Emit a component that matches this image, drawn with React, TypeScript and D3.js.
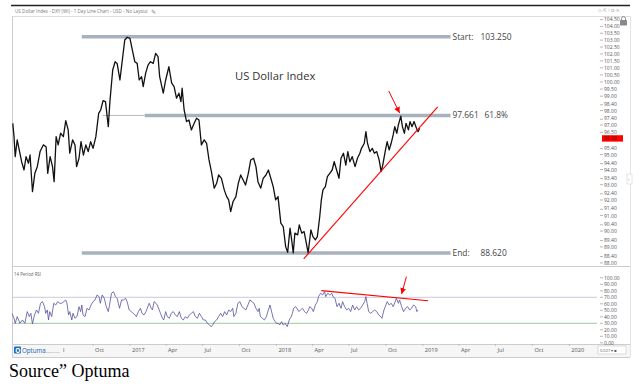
import React from "react";
import * as d3 from "d3";

// US Dollar Index (DXY), daily line
const dxy: [string, number][] = [
  ["2016-03-15", 97.12], ["2016-03-18", 96.21], ["2016-03-21", 94.86], ["2016-03-26", 95.99],
  ["2016-03-31", 95.31], ["2016-04-06", 94.52], ["2016-04-12", 93.97], ["2016-04-17", 94.86],
  ["2016-04-23", 94.42], ["2016-04-27", 94.97], ["2016-05-03", 92.55], ["2016-05-09", 93.75],
  ["2016-05-15", 94.19], ["2016-05-22", 95.2], ["2016-05-30", 95.65], ["2016-06-06", 95.53],
  ["2016-06-10", 93.75], ["2016-06-16", 94.86], ["2016-06-22", 94.19], ["2016-06-26", 93.2],
  ["2016-07-01", 96.21], ["2016-07-06", 95.65], ["2016-07-12", 96.44], ["2016-07-19", 96.21],
  ["2016-07-25", 97.3], ["2016-07-31", 96.67], ["2016-08-04", 95.09], ["2016-08-11", 95.99],
  ["2016-08-17", 95.65], ["2016-08-21", 94.19], ["2016-08-27", 94.75], ["2016-09-01", 95.87],
  ["2016-09-07", 94.97], ["2016-09-13", 95.65], ["2016-09-19", 95.2], ["2016-09-25", 95.87],
  ["2016-10-01", 95.42], ["2016-10-08", 96.21], ["2016-10-15", 97.81], ["2016-10-20", 98.04],
  ["2016-10-26", 98.69], ["2016-11-01", 98.62], ["2016-11-08", 96.89], ["2016-11-12", 98.62],
  ["2016-11-19", 100.85], ["2016-11-25", 101.44], ["2016-11-30", 101.32], ["2016-12-07", 100.14],
  ["2016-12-12", 101.32], ["2016-12-19", 103.01], ["2016-12-25", 103.21], ["2017-01-01", 103.13],
  ["2017-01-07", 102.28], ["2017-01-13", 101.44], ["2017-01-19", 101.32], ["2017-01-24", 100.14],
  ["2017-01-30", 100.37], ["2017-02-03", 99.67], ["2017-02-09", 100.61], ["2017-02-15", 101.2],
  ["2017-02-21", 101.44], ["2017-02-28", 101.32], ["2017-03-06", 102.04], ["2017-03-12", 101.8],
  ["2017-03-16", 100.37], ["2017-03-25", 99.21], ["2017-03-31", 100.14], ["2017-04-08", 101.08],
  ["2017-04-15", 99.91], ["2017-04-21", 99.67], ["2017-04-27", 98.86], ["2017-05-03", 99.21],
  ["2017-05-08", 98.62], ["2017-05-11", 99.56], ["2017-05-16", 98.04], ["2017-05-22", 97.24],
  ["2017-05-28", 97.35], ["2017-06-03", 96.67], ["2017-06-10", 97.12], ["2017-06-16", 97.47],
  ["2017-06-22", 97.35], ["2017-06-28", 95.65], ["2017-07-05", 95.99], ["2017-07-11", 95.76],
  ["2017-07-17", 94.64], ["2017-07-23", 93.86], ["2017-07-30", 92.77], ["2017-08-05", 93.09],
  ["2017-08-10", 93.64], ["2017-08-17", 93.42], ["2017-08-24", 92.66], ["2017-08-30", 92.22],
  ["2017-09-04", 92.01], ["2017-09-09", 91.25], ["2017-09-15", 91.9], ["2017-09-22", 92.22],
  ["2017-09-28", 93.09], ["2017-10-04", 93.64], ["2017-10-10", 93.31], ["2017-10-16", 92.98],
  ["2017-10-23", 93.75], ["2017-10-29", 94.64], ["2017-11-05", 94.75], ["2017-11-11", 94.19],
  ["2017-11-16", 93.2], ["2017-11-23", 92.77], ["2017-11-29", 93.42], ["2017-12-06", 93.64],
  ["2017-12-12", 93.97], ["2017-12-18", 93.42], ["2017-12-24", 92.87], ["2017-12-30", 92.01],
  ["2018-01-05", 92.22], ["2018-01-12", 90.51], ["2018-01-18", 90.29], ["2018-01-24", 89.02],
  ["2018-01-29", 88.66], ["2018-02-04", 90.19], ["2018-02-08", 89.44], ["2018-02-12", 88.62],
  ["2018-02-16", 89.87], ["2018-02-23", 89.76], ["2018-02-27", 90.4], ["2018-03-05", 89.87],
  ["2018-03-11", 89.97], ["2018-03-15", 89.44], ["2018-03-21", 88.62], ["2018-03-28", 90.08],
  ["2018-04-02", 89.65], ["2018-04-08", 89.44], ["2018-04-13", 89.65], ["2018-04-19", 90.93],
  ["2018-04-23", 92.01], ["2018-04-27", 92.66], ["2018-05-03", 92.87], ["2018-05-08", 93.53],
  ["2018-05-14", 93.75], ["2018-05-20", 93.97], ["2018-05-25", 94.52], ["2018-05-31", 93.97],
  ["2018-06-06", 93.42], ["2018-06-11", 94.75], ["2018-06-17", 95.09], ["2018-06-23", 94.3],
  ["2018-06-28", 95.2], ["2018-07-03", 94.52], ["2018-07-09", 94.86], ["2018-07-16", 94.19],
  ["2018-07-22", 94.75], ["2018-07-28", 95.09], ["2018-08-01", 95.42], ["2018-08-08", 95.76],
  ["2018-08-12", 96.55], ["2018-08-16", 95.76], ["2018-08-22", 95.2], ["2018-08-28", 95.42],
  ["2018-09-02", 95.09], ["2018-09-08", 95.2], ["2018-09-14", 94.64], ["2018-09-19", 93.86],
  ["2018-09-23", 94.3], ["2018-09-29", 95.2], ["2018-10-04", 95.87], ["2018-10-09", 95.31],
  ["2018-10-14", 95.76], ["2018-10-19", 96.33], ["2018-10-23", 96.89], ["2018-10-28", 96.44],
  ["2018-11-01", 97.01], ["2018-11-07", 97.62], ["2018-11-11", 96.89], ["2018-11-16", 96.44],
  ["2018-11-20", 97.12], ["2018-11-26", 96.67], ["2018-11-30", 97.24], ["2018-12-05", 96.89],
  ["2018-12-10", 97.24], ["2018-12-16", 96.78], ["2018-12-20", 96.55], ["2018-12-24", 96.78],
];

// 14 period RSI
const rsi: [string, number][] = [
  ["2016-03-13", 45.4], ["2016-03-18", 37.7], ["2016-03-21", 30.0], ["2016-03-26", 40.3],
  ["2016-04-02", 30.0], ["2016-04-08", 35.1], ["2016-04-14", 30.0], ["2016-04-20", 48.0],
  ["2016-04-25", 40.3], ["2016-04-29", 45.4], ["2016-05-03", 29.0], ["2016-05-08", 42.8],
  ["2016-05-13", 50.5], ["2016-05-18", 45.4], ["2016-05-23", 60.8], ["2016-05-28", 63.3],
  ["2016-06-02", 55.6], ["2016-06-05", 45.4], ["2016-06-09", 50.5], ["2016-06-12", 35.1],
  ["2016-06-15", 48.0], ["2016-06-20", 40.3], ["2016-06-25", 60.8], ["2016-06-30", 58.2],
  ["2016-07-05", 63.3], ["2016-07-10", 60.8], ["2016-07-15", 60.8], ["2016-07-20", 63.3],
  ["2016-07-25", 65.9], ["2016-07-28", 60.8], ["2016-08-01", 42.8], ["2016-08-04", 48.0],
  ["2016-08-09", 35.1], ["2016-08-12", 45.4], ["2016-08-17", 37.7], ["2016-08-22", 40.3],
  ["2016-08-27", 55.6], ["2016-08-31", 48.0], ["2016-09-03", 58.2], ["2016-09-06", 42.8],
  ["2016-09-11", 40.3], ["2016-09-16", 53.1], ["2016-09-21", 50.5], ["2016-09-26", 58.2],
  ["2016-10-01", 63.3], ["2016-10-06", 65.9], ["2016-10-11", 73.6], ["2016-10-16", 71.0],
  ["2016-10-19", 60.8], ["2016-10-24", 73.6], ["2016-10-29", 68.5], ["2016-11-03", 55.6],
  ["2016-11-08", 48.0], ["2016-11-11", 58.2], ["2016-11-16", 76.2], ["2016-11-21", 78.7],
  ["2016-11-26", 71.0], ["2016-11-30", 68.5], ["2016-12-03", 60.8], ["2016-12-06", 53.1],
  ["2016-12-11", 65.9], ["2016-12-16", 65.9], ["2016-12-21", 68.5], ["2016-12-25", 63.3],
  ["2016-12-30", 50.5], ["2017-01-04", 48.0], ["2017-01-09", 45.4], ["2017-01-14", 42.8],
  ["2017-01-17", 40.3], ["2017-01-22", 48.0], ["2017-01-27", 53.1], ["2017-01-31", 45.4],
  ["2017-02-05", 42.8], ["2017-02-10", 48.0], ["2017-02-13", 53.1], ["2017-02-18", 60.8],
  ["2017-02-23", 53.1], ["2017-02-26", 50.5], ["2017-03-02", 63.3], ["2017-03-07", 60.8],
  ["2017-03-10", 58.2], ["2017-03-15", 50.5], ["2017-03-18", 45.4], ["2017-03-23", 37.7],
  ["2017-03-26", 35.1], ["2017-03-31", 48.0], ["2017-04-04", 40.3], ["2017-04-09", 37.7],
  ["2017-04-14", 45.4], ["2017-04-19", 48.0], ["2017-04-24", 42.8], ["2017-04-29", 40.3],
  ["2017-05-04", 48.0], ["2017-05-09", 37.7], ["2017-05-14", 35.1], ["2017-05-19", 40.3],
  ["2017-05-24", 37.7], ["2017-05-29", 42.8], ["2017-06-03", 45.4], ["2017-06-08", 48.0],
  ["2017-06-13", 40.3], ["2017-06-18", 37.7], ["2017-06-23", 45.4], ["2017-06-28", 40.3],
  ["2017-07-03", 35.1], ["2017-07-08", 35.1], ["2017-07-13", 30.0], ["2017-07-18", 27.4],
  ["2017-07-23", 24.9], ["2017-07-26", 27.4], ["2017-07-31", 32.6], ["2017-08-05", 35.1],
  ["2017-08-10", 40.3], ["2017-08-15", 45.4], ["2017-08-20", 40.3], ["2017-08-25", 48.0],
  ["2017-08-30", 42.8], ["2017-09-04", 50.5], ["2017-09-09", 48.0], ["2017-09-14", 53.1],
  ["2017-09-17", 40.3], ["2017-09-22", 45.4], ["2017-09-27", 60.8], ["2017-10-02", 63.3],
  ["2017-10-07", 55.6], ["2017-10-12", 53.1], ["2017-10-17", 50.5], ["2017-10-22", 58.2],
  ["2017-10-27", 65.9], ["2017-11-01", 63.3], ["2017-11-06", 60.8], ["2017-11-11", 53.1],
  ["2017-11-16", 48.0], ["2017-11-19", 53.1], ["2017-11-22", 40.3], ["2017-11-27", 37.7],
  ["2017-12-02", 35.1], ["2017-12-07", 40.3], ["2017-12-12", 50.5], ["2017-12-16", 58.2],
  ["2017-12-21", 45.4], ["2017-12-24", 37.7], ["2017-12-29", 32.6], ["2018-01-01", 30.0],
  ["2018-01-06", 30.0], ["2018-01-09", 27.4], ["2018-01-14", 32.6], ["2018-01-18", 27.4],
  ["2018-01-23", 30.0], ["2018-01-28", 24.9], ["2018-02-02", 35.1], ["2018-02-07", 40.3],
  ["2018-02-10", 45.4], ["2018-02-13", 53.1], ["2018-02-18", 55.6], ["2018-02-21", 53.1],
  ["2018-02-26", 48.0], ["2018-03-02", 50.5], ["2018-03-07", 53.1], ["2018-03-12", 48.0],
  ["2018-03-17", 45.4], ["2018-03-22", 50.5], ["2018-03-25", 55.6], ["2018-03-30", 53.1],
  ["2018-04-03", 48.0], ["2018-04-08", 58.2], ["2018-04-13", 63.3], ["2018-04-16", 71.0],
  ["2018-04-21", 76.2], ["2018-04-26", 73.6], ["2018-05-01", 78.7], ["2018-05-04", 71.0],
  ["2018-05-09", 76.2], ["2018-05-14", 73.6], ["2018-05-19", 76.2], ["2018-05-22", 71.0],
  ["2018-05-27", 68.5], ["2018-06-01", 55.6], ["2018-06-06", 60.8], ["2018-06-11", 53.1],
  ["2018-06-15", 63.3], ["2018-06-20", 55.6], ["2018-06-25", 50.5], ["2018-06-30", 53.1],
  ["2018-07-05", 48.0], ["2018-07-10", 58.2], ["2018-07-15", 50.5], ["2018-07-20", 55.6],
  ["2018-07-25", 50.5], ["2018-07-30", 53.1], ["2018-08-04", 58.2], ["2018-08-09", 63.3],
  ["2018-08-12", 71.0], ["2018-08-15", 60.8], ["2018-08-19", 48.0], ["2018-08-24", 45.4],
  ["2018-08-29", 48.0], ["2018-09-03", 50.5], ["2018-09-08", 48.0], ["2018-09-13", 42.8],
  ["2018-09-18", 40.3], ["2018-09-21", 37.7], ["2018-09-26", 50.5], ["2018-10-01", 58.2],
  ["2018-10-04", 63.3], ["2018-10-09", 58.2], ["2018-10-14", 60.8], ["2018-10-19", 55.6],
  ["2018-10-24", 63.3], ["2018-10-27", 68.5], ["2018-11-01", 60.8], ["2018-11-04", 65.9],
  ["2018-11-09", 55.6], ["2018-11-14", 48.0], ["2018-11-19", 53.1], ["2018-11-24", 55.6],
  ["2018-11-29", 50.5], ["2018-12-04", 53.1], ["2018-12-09", 58.2], ["2018-12-14", 55.6],
  ["2018-12-17", 48.0], ["2018-12-20", 50.5],
];

const priceTicks = [104.5, 104, 103.5, 103, 102.5, 102, 101.5, 101, 100.5, 100, 99.5, 99,
  98.4, 98, 97.4, 97, 96.5, 95.4, 95, 94.4, 94, 93.4, 93, 92.4, 92, 91.4, 91, 90.4, 90,
  89.4, 89, 88.4, 88];
const rsiTicks = [100, 90, 80, 70, 60, 50, 40, 30, 20, 10, 0];
const rsiBands = [70, 30];
const lastPrice = 96.09;

// fibonacci retracement levels: left label, right label, value
const fibLevels: [string, string, number][] = [
  ["Start:", "103.250", 103.25],
  ["97.661", "61.8%", 97.661],
  ["End:", "88.620", 88.62],
];
const fibStart = "2016-09-03";
const fibMidStart = "2017-02-07";
const fibThinStart = "2016-10-25";
const fibEnd = "2019-03-11";

const priceTrend: [string, number][] = [["2018-03-10", 88.25], ["2019-02-07", 98.25]];
const priceArrow: [string, number][] = [["2018-10-08", 99.36], ["2018-11-04", 97.83]];
const rsiTrend: [string, number][] = [["2018-04-23", 80.2], ["2019-01-14", 64.8]];
const rsiArrow: [string, number][] = [["2018-11-21", 101.7], ["2018-11-09", 75.1]];

const parse = d3.timeParse("%Y-%m-%d");
const UI = "'Open Sans', 'Noto Sans', sans-serif";

const App = () => {
  const left = 12;
  const axisX = 597;
  const right = 630;

  const x = d3.scaleTime()
    .domain([parse("2016-03-13")!, parse("2020-03-10")!])
    .range([left, axisX]);
  const y = d3.scaleLog().domain([87.87, 104.77]).range([265, 16]);
  const yr = d3.scaleLinear().domain([0, 100]).range([342.8, 277.8]);

  const priceLine = d3.line<[string, number]>()
    .x(d => x(parse(d[0])!))
    .y(d => y(d[1]));
  const rsiLine = d3.line<[string, number]>()
    .x(d => x(parse(d[0])!))
    .y(d => yr(d[1]));

  // quarterly ticks; the ones under the Optuma logo are not drawn
  const xTicks = x.ticks(d3.timeMonth.every(3)!).filter(t => x(t) > 50);
  const fmtTick = (d: Date) => d.getMonth() === 0 ? d3.timeFormat("%Y")(d) : d3.timeFormat("%b")(d);
  const f2 = d3.format(".2f");
  // the .40 labels sit close to the .00 below them: nudge the pair apart a little
  const nudge = (t: number) => {
    const frac = Math.round((t % 1) * 10);
    if (frac === 4) return -0.6;
    if (frac === 0 && priceTicks.includes(+(t + 0.4).toFixed(1))) return 0.6;
    return 0;
  };

  const seg = (pts: [string, number][], sy: (v: number) => number) => ({
    x1: x(parse(pts[0][0])!), y1: sy(pts[0][1]),
    x2: x(parse(pts[1][0])!), y2: sy(pts[1][1]),
  });

  return (
    <svg width={640} height={392} style={{ position: "absolute", left: 0, top: 0, background: "#fff" }}>
      <defs>
        <marker id="redHead" markerUnits="userSpaceOnUse" markerWidth={7} markerHeight={7}
          refX={6} refY={3} orient="auto">
          <path d="M0,0 L6,3 L0,6 z" fill="#f00" />
        </marker>
        <clipPath id="pricePane"><rect x={left} y={16} width={axisX - left} height={250} /></clipPath>
        <clipPath id="rsiPane"><rect x={left} y={268} width={axisX - left} height={76} /></clipPath>
        <clipPath id="timeAxis"><rect x={63} y={344} width={axisX - 63} height={13} /></clipPath>
      </defs>

      {/* frame */}
      <line x1={11} x2={right} y1={5.5} y2={5.5} stroke="#222" strokeWidth={1.6} />
      <text x={15} y={13} fontSize={4.6} fill="#777" fontFamily={UI}>
        US Dollar Index - DXY (WI) - 1 Day Line Chart - USD - No Layout
      </text>
      <text x={151} y={13.5} fontSize={5.5} fill="#888">✎</text>
      <text x={598} y={12} fontSize={4.6} fill="#aaa" fontFamily="DejaVu Sans">◇  ⇱  ⁞  ⧉  ✕</text>
      <line x1={left} x2={right} y1={16.5} y2={16.5} stroke="#ddd" />
      <line x1={left + 0.5} x2={left + 0.5} y1={16} y2={357} stroke="#ccc" />
      <line x1={right + 0.5} x2={right + 0.5} y1={16} y2={357} stroke="#e4e4e4" />
      <line x1={left} x2={right} y1={266.5} y2={266.5} stroke="#ccc" />
      <rect x={left + 1} y={344} width={right - left - 1} height={13} fill="#f6f6f6" />
      <line x1={left} x2={right} y1={344.5} y2={344.5} stroke="#ccc" />
      <line x1={left} x2={right} y1={357.5} y2={357.5} stroke="#ccc" />
      <rect x={627} y={174} width={5} height={10} fill="#fff" stroke="#ccc" strokeWidth={0.5} />
      <text x={628} y={181} fontSize={5} fill="#888" fontFamily={UI}>‹</text>

      {/* price axis */}
      {priceTicks.map(t => (
        <g key={t}>
          <line x1={600} x2={603} y1={y(t)} y2={y(t)} stroke="#888" strokeWidth={0.6} />
          <text x={604} y={y(t) + 1.7 + nudge(t)} fontSize={5} fill="#555" fontFamily={UI}>{f2(t)}</text>
        </g>
      ))}
      <rect x={602} y={y(lastPrice) - 3.2} width={21} height={6.4} fill="#f00" />
      <text x={604} y={y(lastPrice) + 1.8} fontSize={5} fill="#7a0000" fontFamily={UI}>{f2(lastPrice)}</text>
      <g fill="#888">
        <rect x={620} y={20} width={7} height={5.5} rx={0.8} />
        <path d="M621.5,20.5 v-1.8 a2,2 0 0 1 4,0 v1.8" fill="none" stroke="#888" strokeWidth={1} />
      </g>

      {/* fibonacci levels */}
      {fibLevels.map(([a, b, v], i) => {
        const x0 = x(parse(i === 1 ? fibMidStart : fibStart)!);
        const x1 = x(parse(fibEnd)!);
        return (
          <g key={a}>
            {i === 1 && (
              <line x1={x(parse(fibThinStart)!)} x2={x0} y1={y(v)} y2={y(v)} stroke="#8a8a8a" strokeWidth={0.6} />
            )}
            <line x1={x0} x2={x1} y1={y(v)} y2={y(v)} stroke="#a7b2be" strokeWidth={3.4} />
            <text x={x1 + 2} y={y(v) + 3} fontSize={8.4} fill="#444" fontFamily={UI}>{a}</text>
            <text x={x1 + (i === 1 ? 34 : 30)} y={y(v) + 3} fontSize={8.4} fill="#444" fontFamily={UI}>{b}</text>
          </g>
        );
      })}

      <text x={235} y={80} fontSize={11.2} fill="#333" fontFamily={UI}>US Dollar Index</text>

      <g clipPath="url(#pricePane)">
        <path d={priceLine(dxy) ?? ""} fill="none" stroke="#111" strokeWidth={1.3} strokeLinejoin="round" />
        <line {...seg(priceTrend, y)} stroke="#f00" strokeWidth={1.1} />
        <line {...seg(priceArrow, y)} stroke="#f00" strokeWidth={1} markerEnd="url(#redHead)" />
      </g>

      {/* RSI pane */}
      <text x={14} y={276} fontSize={4.4} fill="#666" fontFamily={UI}>14 Period RSI</text>
      <line x1={left} x2={axisX} y1={yr(rsiBands[0])} y2={yr(rsiBands[0])} stroke="#c3c3d8" strokeWidth={0.9} />
      <line x1={left} x2={axisX} y1={yr(rsiBands[1])} y2={yr(rsiBands[1])} stroke="#93c493" strokeWidth={0.9} />
      {rsiTicks.map(t => (
        <g key={t}>
          <line x1={600} x2={603} y1={yr(t)} y2={yr(t)} stroke="#888" strokeWidth={0.6} />
          <text x={604} y={yr(t) + 1.7} fontSize={5} fill="#555" fontFamily={UI}>{f2(t)}</text>
        </g>
      ))}
      <g clipPath="url(#rsiPane)">
        <path d={rsiLine(rsi) ?? ""} fill="none" stroke="#55509e" strokeWidth={0.8} strokeLinejoin="round" />
        <line {...seg(rsiTrend, yr)} stroke="#f00" strokeWidth={1.1} />
        <line {...seg(rsiArrow, yr)} stroke="#f00" strokeWidth={1} markerEnd="url(#redHead)" />
      </g>

      {/* time axis */}
      <g clipPath="url(#timeAxis)">
        {xTicks.map(t => (
          <g key={+t}>
            <line x1={x(t)} x2={x(t)} y1={344} y2={346} stroke="#aaa" strokeWidth={0.6} />
            <text x={x(t) + 2} y={351.5} fontSize={5.6} fill="#555" fontFamily={UI}>{fmtTick(t)}</text>
          </g>
        ))}
      </g>
      <rect x={14} y={346.5} width={7} height={7} rx={1} fill="#1d6fc0" />
      <text x={15.3} y={352.6} fontSize={6.5} fill="#fff" fontFamily={UI} fontWeight="bold">O</text>
      <text x={22} y={353} fontSize={6.2} fill="#1d5fa8" fontFamily={UI}>Optuma</text>
      <text x={46} y={353} fontSize={2.3} fill="#999" fontFamily={UI}>optuma.com</text>
      <rect x={598} y={346} width={28} height={8} fill="#fff" stroke="#bbb" strokeWidth={0.5} />
      <text x={600} y={351.8} fontSize={4} fill="#555" fontFamily={UI}>0.027 ▾ ■</text>

      <text x={9} y={377} fontSize={18} fill="#000" fontFamily="'Liberation Serif', 'Times New Roman', serif">
        Source” Optuma
      </text>
    </svg>
  );
};

export default App;
